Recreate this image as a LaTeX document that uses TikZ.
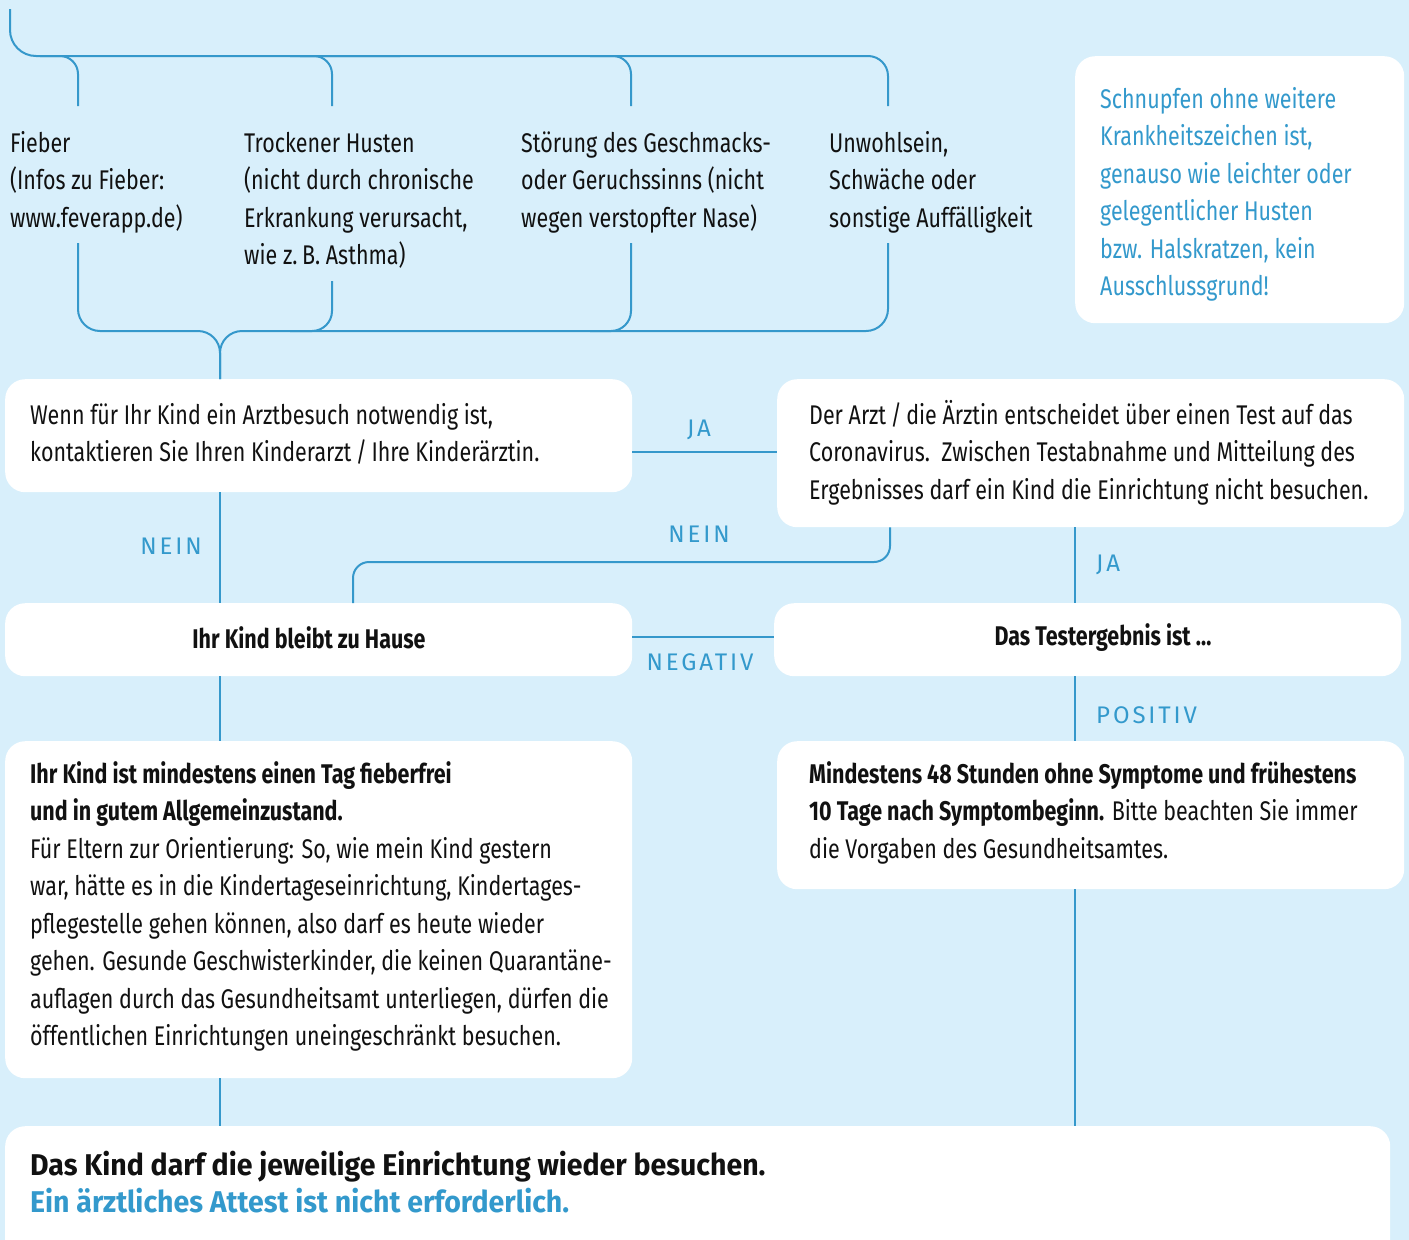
\documentclass[tikz,border=0pt]{standalone}
\usepackage{fontspec}
\setmainfont{Fira Sans}[FakeStretch=0.795]
\newfontfamily\lblfont{Fira Sans}[LetterSpace=12]
\newfontfamily\bigfont{Fira Sans}[FakeStretch=0.95]
\definecolor{bg}{HTML}{D8EFFB}
\definecolor{ln}{HTML}{3598CB}
\definecolor{blu}{HTML}{3399CC}
\definecolor{ink}{HTML}{111111}
\begin{document}
\begin{tikzpicture}[x=1pt,y=-1pt,
  box/.style={fill=white, rounded corners=20pt, draw=none, anchor=north west, inner sep=0pt},
  conn/.style={draw=ln, line width=2pt},
  txt/.style={anchor=north west, inner sep=0pt, align=left, text=ink, font=\fontsize{27}{37.5}\selectfont},
  ctxt/.style={inner sep=0pt, text=ink, font=\fontsize{27}{37.5}\selectfont\bfseries},
  lbl/.style={text=blu, font=\lblfont\fontsize{24}{28}\selectfont, inner sep=0pt}]
\useasboundingbox (0,0) rectangle (1409,1240);
\clip (0,0) rectangle (1409,1240);
\fill[bg] (0,0) rectangle (1409,1240);

% boxes
\node[box, minimum width=627pt, minimum height=113pt] (A) at (5,379) {};
\node[box, minimum width=627pt, minimum height=148pt] (B) at (777,379) {};
\node[box, minimum width=329pt, minimum height=267pt] (C) at (1075,56) {};
\node[box, minimum width=627pt, minimum height=73pt] (D) at (5,603) {};
\node[box, minimum width=627pt, minimum height=73pt] (E) at (774,603) {};
\node[box, minimum width=627pt, minimum height=337pt] (F) at (5,741) {};
\node[box, minimum width=627pt, minimum height=148pt] (G) at (777,741) {};
\node[box, minimum width=1385pt, minimum height=160pt] (H) at (5,1126) {};

% coordinates
\coordinate (cx) at (220,0);
\coordinate (rx) at (1075,0);
\coordinate (nx) at (890,0);
\coordinate (hx) at (353,0);
\coordinate (jy) at (0,452);
\coordinate (ny) at (0,637);
\coordinate (my) at (0,562);

% top bracket
\draw[conn, rounded corners=26pt] (10,9) -- (10,56) -- (400,56);
\draw[conn, rounded corners=20pt] (300,56) -- (888,56) -- (888,106);
\draw[conn, rounded corners=18pt] (40,56) -- (78,56) -- (78,106);
\draw[conn, rounded corners=18pt] (290,56) -- (332,56) -- (332,106);
\draw[conn, rounded corners=18pt] (590,56) -- (631,56) -- (631,106);

% bottom bracket
\draw[conn, rounded corners=22pt] (78,243) -- (78,331) -- (220,331) -- (A.north -| cx);
\draw[conn, rounded corners=22pt] (888,243) -- (888,331) -- (220,331) -- (A.north -| cx);
\draw[conn, rounded corners=20pt] (332,281) -- (332,331) -- (290,331);
\draw[conn, rounded corners=20pt] (631,243) -- (631,331) -- (590,331);

% connectors
\draw[conn] (A.south -| cx) -- (D.north -| cx);
\draw[conn] (D.south -| cx) -- (F.north -| cx);
\draw[conn] (F.south -| cx) -- (H.north -| cx);
\draw[conn] (B.south -| rx) -- (E.north -| rx);
\draw[conn] (E.south -| rx) -- (G.north -| rx);
\draw[conn] (G.south -| rx) -- (H.north -| rx);
\draw[conn] (A.east |- jy) -- (B.west |- jy);
\draw[conn] (D.east |- ny) -- (E.west |- ny);
\draw[conn, rounded corners=16pt] (B.south -| nx) -- (nx |- my) -- (hx |- my) -- (D.north -| hx);

% labels
\node[lbl] (l1) at (699,430) {JA};
\node[lbl] (l2) at (171,546) {NEIN};
\node[lbl] (l3) at (699,534) {NEIN};
\node[lbl, anchor=west] (l4) at (1096,565) {JA};
\node[lbl] (l5) at (700,662) {NEGATIV};
\node[lbl, anchor=west] (l6) at (1096,715) {POSITIV};

% symptom texts
\node[txt] (s1) at (10,126) {\strut Fieber\\(Infos zu Fieber:\\www.feverapp.de)};
\node[txt] (s2) at (244,126) {\strut Trockener Husten\\(nicht durch chronische\\Erkrankung verursacht,\\wie z.\,B. Asthma)};
\node[txt] (s3) at (521,126) {\strut Störung des Geschmacks-\\oder Geruchssinns (nicht\\wegen verstopfter Nase)};
\node[txt] (s4) at (829,126) {\strut Unwohlsein,\\Schwäche oder\\sonstige Auffälligkeit};

% box texts
\node[txt, text=blu] (Ct) at (1100,82) {\strut Schnupfen ohne weitere\\Krankheitszeichen ist,\\genauso wie leichter oder\\gelegentlicher Husten\\bzw. Halskratzen, kein\\Ausschlussgrund!};
\node[txt] (At) at (30,398) {\strut Wenn für Ihr Kind ein Arztbesuch notwendig ist,\\kontaktieren Sie Ihren Kinderarzt\,/\,Ihre Kinderärztin.};
\node[txt] (Bt) at (809,398) {\strut Der Arzt\,/\,die Ärztin entscheidet über einen Test auf das\\Coronavirus.\ \ Zwischen Testabnahme und Mitteilung des\\Ergebnisses darf ein Kind die Einrichtung nicht besuchen.};
\node[ctxt] (Dt) at (309,638) {Ihr Kind bleibt zu Hause};
\node[ctxt] (Et) at (1103,638) {Das Testergebnis ist \dots};
\node[txt] (Ft) at (30,757) {\strut{\bfseries Ihr Kind ist mindestens einen Tag fieberfrei}\\{\bfseries und in gutem Allgemeinzustand.}\\Für Eltern zur Orientierung: So, wie mein Kind gestern\\war, hätte es in die Kindertageseinrichtung, Kindertages-\\pflegestelle gehen können, also darf es heute wieder\\gehen. Gesunde Geschwisterkinder, die keinen Quarantäne-\\auflagen durch das Gesundheitsamt unterliegen, dürfen die\\öffentlichen Einrichtungen uneingeschränkt besuchen.};
\node[txt] (Gt) at (809,757) {\strut{\bfseries Mindestens 48 Stunden ohne Symptome und frühestens}\\{\bfseries 10 Tage nach Symptombeginn.} Bitte beachten Sie immer\\die Vorgaben des Gesundheitsamtes.};
\node[txt, font=\bigfont\fontsize{30}{36.5}\selectfont\bfseries] (Ht) at (30,1150) {\strut Das Kind darf die jeweilige Einrichtung wieder besuchen.\\\textcolor{blu}{Ein ärztliches Attest ist nicht erforderlich.}};
\end{tikzpicture}
\end{document}
